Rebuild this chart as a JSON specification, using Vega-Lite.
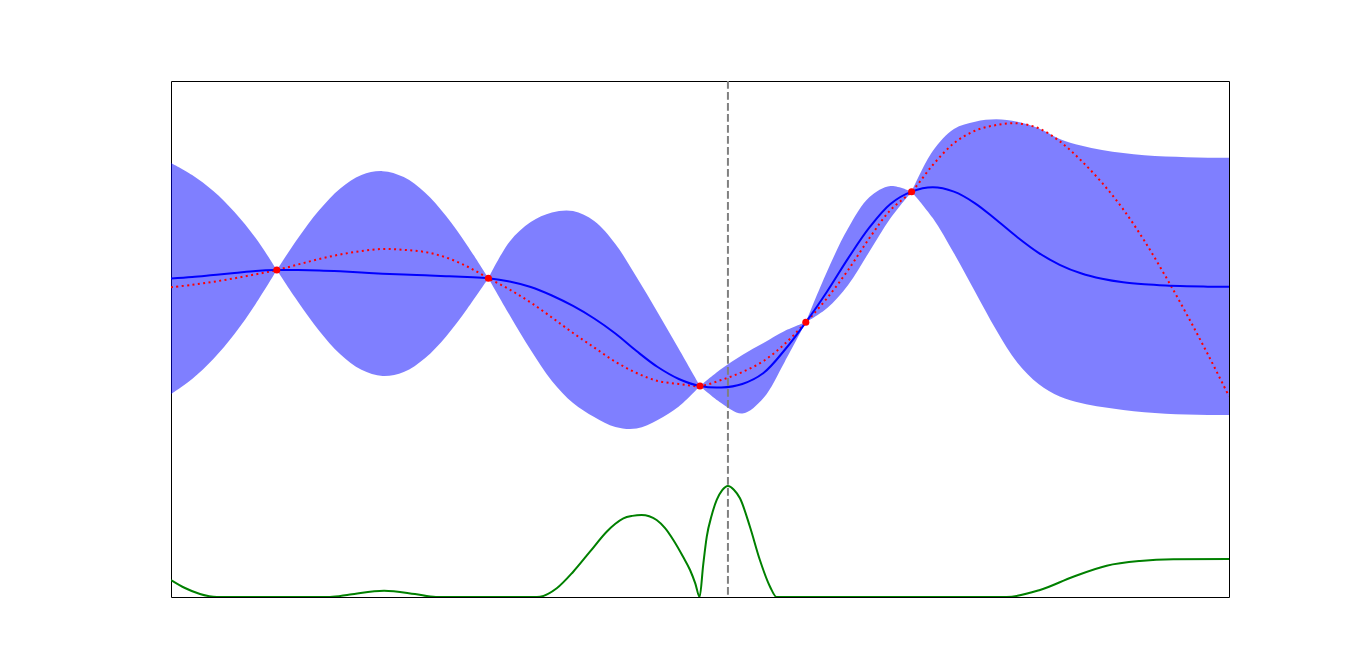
{
  "$schema": "https://vega.github.io/schema/vega-lite/v6.json",
  "width": 1058,
  "height": 516,
  "autosize": {"type": "none"},
  "padding": {"left": 171, "top": 81, "right": 137, "bottom": 74},
  "background": "white",
  "config": {"view": {"stroke": "black", "strokeWidth": 1}},
  "datasets": {
    "band": [
      {"seg": 0, "x": 0.0, "upper": 2.047, "lower": -0.640},
      {"seg": 0, "x": 0.1, "upper": 1.907, "lower": -0.465},
      {"seg": 0, "x": 0.2, "upper": 1.721, "lower": -0.233},
      {"seg": 0, "x": 0.3, "upper": 1.477, "lower": 0.058},
      {"seg": 0, "x": 0.4, "upper": 1.174, "lower": 0.407},
      {"seg": 0, "x": 0.5, "upper": 0.802, "lower": 0.802},
      {"seg": 1, "x": 0.5, "upper": 0.802, "lower": 0.802},
      {"seg": 1, "x": 0.6, "upper": 1.171, "lower": 0.434},
      {"seg": 1, "x": 0.7, "upper": 1.497, "lower": 0.097},
      {"seg": 1, "x": 0.8, "upper": 1.751, "lower": -0.177},
      {"seg": 1, "x": 0.9, "upper": 1.908, "lower": -0.359},
      {"seg": 1, "x": 1.0, "upper": 1.952, "lower": -0.431},
      {"seg": 1, "x": 1.1, "upper": 1.883, "lower": -0.385},
      {"seg": 1, "x": 1.2, "upper": 1.703, "lower": -0.224},
      {"seg": 1, "x": 1.3, "upper": 1.430, "lower": 0.030},
      {"seg": 1, "x": 1.4, "upper": 1.088, "lower": 0.351},
      {"seg": 1, "x": 1.5, "upper": 0.706, "lower": 0.706},
      {"seg": 2, "x": 1.5, "upper": 0.706, "lower": 0.706},
      {"seg": 2, "x": 1.6, "upper": 1.131, "lower": 0.279},
      {"seg": 2, "x": 1.7, "upper": 1.360, "lower": -0.128},
      {"seg": 2, "x": 1.8, "upper": 1.471, "lower": -0.488},
      {"seg": 2, "x": 1.9, "upper": 1.488, "lower": -0.744},
      {"seg": 2, "x": 2.0, "upper": 1.372, "lower": -0.907},
      {"seg": 2, "x": 2.1, "upper": 1.105, "lower": -1.023},
      {"seg": 2, "x": 2.2, "upper": 0.721, "lower": -1.041},
      {"seg": 2, "x": 2.3, "upper": 0.308, "lower": -0.942},
      {"seg": 2, "x": 2.4, "upper": -0.116, "lower": -0.785},
      {"seg": 2, "x": 2.5, "upper": -0.547, "lower": -0.547},
      {"seg": 3, "x": 2.5, "upper": -0.547, "lower": -0.547},
      {"seg": 3, "x": 2.6, "upper": -0.349, "lower": -0.744},
      {"seg": 3, "x": 2.7, "upper": -0.186, "lower": -0.866},
      {"seg": 3, "x": 2.8, "upper": -0.047, "lower": -0.686},
      {"seg": 3, "x": 2.9, "upper": 0.093, "lower": -0.267},
      {"seg": 3, "x": 3.0, "upper": 0.194, "lower": 0.194},
      {"seg": 4, "x": 3.0, "upper": 0.194, "lower": 0.194},
      {"seg": 4, "x": 3.1, "upper": 0.783, "lower": 0.357},
      {"seg": 4, "x": 3.2, "upper": 1.287, "lower": 0.628},
      {"seg": 4, "x": 3.3, "upper": 1.648, "lower": 1.015},
      {"seg": 4, "x": 3.4, "upper": 1.779, "lower": 1.403},
      {"seg": 4, "x": 3.5, "upper": 1.713, "lower": 1.713},
      {"seg": 5, "x": 3.5, "upper": 1.713, "lower": 1.713},
      {"seg": 5, "x": 3.6, "upper": 2.186, "lower": 1.407},
      {"seg": 5, "x": 3.7, "upper": 2.442, "lower": 0.997},
      {"seg": 5, "x": 3.8, "upper": 2.527, "lower": 0.550},
      {"seg": 5, "x": 3.9, "upper": 2.555, "lower": 0.105},
      {"seg": 5, "x": 4.0, "upper": 2.527, "lower": -0.276},
      {"seg": 5, "x": 4.1, "upper": 2.450, "lower": -0.523},
      {"seg": 5, "x": 4.2, "upper": 2.326, "lower": -0.669},
      {"seg": 5, "x": 4.3, "upper": 2.250, "lower": -0.744},
      {"seg": 5, "x": 4.4, "upper": 2.198, "lower": -0.791},
      {"seg": 5, "x": 4.5, "upper": 2.163, "lower": -0.826},
      {"seg": 5, "x": 4.6, "upper": 2.136, "lower": -0.852},
      {"seg": 5, "x": 4.7, "upper": 2.121, "lower": -0.870},
      {"seg": 5, "x": 4.8, "upper": 2.114, "lower": -0.879},
      {"seg": 5, "x": 4.9, "upper": 2.109, "lower": -0.883},
      {"seg": 5, "x": 5.0, "upper": 2.108, "lower": -0.884}
    ],
    "gp": [
      {"x": 0.0, "mean": 0.703, "truth": 0.601},
      {"x": 0.1, "mean": 0.721, "truth": 0.630},
      {"x": 0.2, "mean": 0.744, "truth": 0.665},
      {"x": 0.3, "mean": 0.767, "truth": 0.706},
      {"x": 0.4, "mean": 0.791, "truth": 0.752},
      {"x": 0.5, "mean": 0.802, "truth": 0.802},
      {"x": 0.6, "mean": 0.802, "truth": 0.866},
      {"x": 0.7, "mean": 0.797, "truth": 0.930},
      {"x": 0.8, "mean": 0.787, "truth": 0.983},
      {"x": 0.9, "mean": 0.774, "truth": 1.023},
      {"x": 1.0, "mean": 0.760, "truth": 1.047},
      {"x": 1.1, "mean": 0.749, "truth": 1.037},
      {"x": 1.2, "mean": 0.740, "truth": 1.012},
      {"x": 1.3, "mean": 0.730, "truth": 0.948},
      {"x": 1.4, "mean": 0.720, "truth": 0.843},
      {"x": 1.5, "mean": 0.706, "truth": 0.706},
      {"x": 1.6, "mean": 0.669, "truth": 0.576},
      {"x": 1.7, "mean": 0.605, "truth": 0.424},
      {"x": 1.8, "mean": 0.506, "truth": 0.250},
      {"x": 1.9, "mean": 0.384, "truth": 0.070},
      {"x": 2.0, "mean": 0.238, "truth": -0.099},
      {"x": 2.1, "mean": 0.064, "truth": -0.264},
      {"x": 2.2, "mean": -0.140, "truth": -0.395},
      {"x": 2.3, "mean": -0.326, "truth": -0.488},
      {"x": 2.4, "mean": -0.465, "truth": -0.523},
      {"x": 2.5, "mean": -0.547, "truth": -0.547},
      {"x": 2.6, "mean": -0.564, "truth": -0.477},
      {"x": 2.7, "mean": -0.523, "truth": -0.384},
      {"x": 2.8, "mean": -0.395, "truth": -0.256},
      {"x": 2.9, "mean": -0.128, "truth": -0.058},
      {"x": 3.0, "mean": 0.194, "truth": 0.194},
      {"x": 3.1, "mean": 0.550, "truth": 0.473},
      {"x": 3.2, "mean": 0.938, "truth": 0.802},
      {"x": 3.3, "mean": 1.294, "truth": 1.171},
      {"x": 3.4, "mean": 1.570, "truth": 1.500},
      {"x": 3.5, "mean": 1.713, "truth": 1.713},
      {"x": 3.6, "mean": 1.764, "truth": 2.023},
      {"x": 3.7, "mean": 1.713, "truth": 2.276},
      {"x": 3.8, "mean": 1.578, "truth": 2.422},
      {"x": 3.9, "mean": 1.386, "truth": 2.488},
      {"x": 4.0, "mean": 1.183, "truth": 2.508},
      {"x": 4.1, "mean": 1.002, "truth": 2.450},
      {"x": 4.2, "mean": 0.863, "truth": 2.299},
      {"x": 4.3, "mean": 0.764, "truth": 2.078},
      {"x": 4.4, "mean": 0.700, "truth": 1.816},
      {"x": 4.5, "mean": 0.659, "truth": 1.508},
      {"x": 4.6, "mean": 0.636, "truth": 1.142},
      {"x": 4.7, "mean": 0.622, "truth": 0.729},
      {"x": 4.8, "mean": 0.614, "truth": 0.287},
      {"x": 4.9, "mean": 0.609, "truth": -0.178},
      {"x": 5.0, "mean": 0.607, "truth": -0.666}
    ],
    "obs": [
      {"x": 0.5, "y": 0.802},
      {"x": 1.5, "y": 0.706},
      {"x": 2.5, "y": -0.547},
      {"x": 3.0, "y": 0.194},
      {"x": 3.5, "y": 1.713}
    ],
    "acq": [
      {"x": 0.0, "ei": 0.0329},
      {"x": 0.066, "ei": 0.0174},
      {"x": 0.137, "ei": 0.0058},
      {"x": 0.217, "ei": 0.0},
      {"x": 0.751, "ei": 0.0},
      {"x": 0.846, "ei": 0.0048},
      {"x": 1.007, "ei": 0.0122},
      {"x": 1.153, "ei": 0.0058},
      {"x": 1.252, "ei": 0.0},
      {"x": 1.715, "ei": 0.0},
      {"x": 1.744, "ei": 0.0006},
      {"x": 1.823, "ei": 0.0169},
      {"x": 1.901, "ei": 0.049},
      {"x": 1.98, "ei": 0.0878},
      {"x": 2.059, "ei": 0.1266},
      {"x": 2.1, "ei": 0.142},
      {"x": 2.138, "ei": 0.1525},
      {"x": 2.18, "ei": 0.1572},
      {"x": 2.224, "ei": 0.1589},
      {"x": 2.26, "ei": 0.1565},
      {"x": 2.295, "ei": 0.1492},
      {"x": 2.335, "ei": 0.1335},
      {"x": 2.374, "ei": 0.1105},
      {"x": 2.42, "ei": 0.078},
      {"x": 2.453, "ei": 0.0523},
      {"x": 2.478, "ei": 0.026},
      {"x": 2.498, "ei": 0.0},
      {"x": 2.515, "ei": 0.062},
      {"x": 2.532, "ei": 0.1169},
      {"x": 2.555, "ei": 0.158},
      {"x": 2.579, "ei": 0.188},
      {"x": 2.605, "ei": 0.207},
      {"x": 2.632, "ei": 0.2151},
      {"x": 2.66, "ei": 0.208},
      {"x": 2.689, "ei": 0.1913},
      {"x": 2.736, "ei": 0.1362},
      {"x": 2.783, "ei": 0.0717},
      {"x": 2.831, "ei": 0.02},
      {"x": 2.862, "ei": 0.0},
      {"x": 3.949, "ei": 0.0},
      {"x": 4.107, "ei": 0.0136},
      {"x": 4.264, "ei": 0.0393},
      {"x": 4.422, "ei": 0.0607},
      {"x": 4.579, "ei": 0.0698},
      {"x": 4.737, "ei": 0.0731},
      {"x": 5.0, "ei": 0.0736}
    ],
    "next": [{"x": 2.632}]
  },
  "layer": [
    {
      "layer": [
        {
          "data": {"name": "band"},
          "mark": {"type": "area", "color": "#0000ff", "opacity": 0.5, "interpolate": "catmull-rom", "clip": true},
          "encoding": {
            "x": {"field": "x", "type": "quantitative", "scale": {"domain": [0, 5], "nice": false, "zero": false}, "axis": null},
            "y": {"field": "upper", "type": "quantitative", "scale": {"domain": [-3, 3], "nice": false, "zero": false}, "axis": null},
            "y2": {"field": "lower"},
            "detail": {"field": "seg", "type": "nominal"}
          }
        },
        {
          "data": {"name": "gp"},
          "mark": {"type": "line", "color": "#ff0000", "strokeWidth": 2, "strokeDash": [2, 3.4], "interpolate": "catmull-rom", "clip": true},
          "encoding": {
            "x": {"field": "x", "type": "quantitative"},
            "y": {"field": "truth", "type": "quantitative"}
          }
        },
        {
          "data": {"name": "gp"},
          "mark": {"type": "line", "color": "#0000ff", "strokeWidth": 2, "interpolate": "catmull-rom", "clip": true},
          "encoding": {
            "x": {"field": "x", "type": "quantitative"},
            "y": {"field": "mean", "type": "quantitative"}
          }
        },
        {
          "data": {"name": "obs"},
          "mark": {"type": "circle", "color": "#ff0000", "opacity": 1, "size": 50},
          "encoding": {
            "x": {"field": "x", "type": "quantitative"},
            "y": {"field": "y", "type": "quantitative"}
          }
        },
        {
          "data": {"name": "next"},
          "mark": {"type": "rule", "color": "#808080", "strokeWidth": 2, "strokeDash": [7.7, 3.3]},
          "encoding": {
            "x": {"field": "x", "type": "quantitative"}
          }
        }
      ]
    },
    {
      "data": {"name": "acq"},
      "mark": {"type": "line", "color": "#008000", "strokeWidth": 2, "interpolate": "monotone", "clip": true},
      "encoding": {
        "x": {"field": "x", "type": "quantitative"},
        "y": {"field": "ei", "type": "quantitative", "scale": {"domain": [0, 1], "nice": false, "zero": false}, "axis": null}
      }
    }
  ],
  "resolve": {"scale": {"y": "independent"}}
}
